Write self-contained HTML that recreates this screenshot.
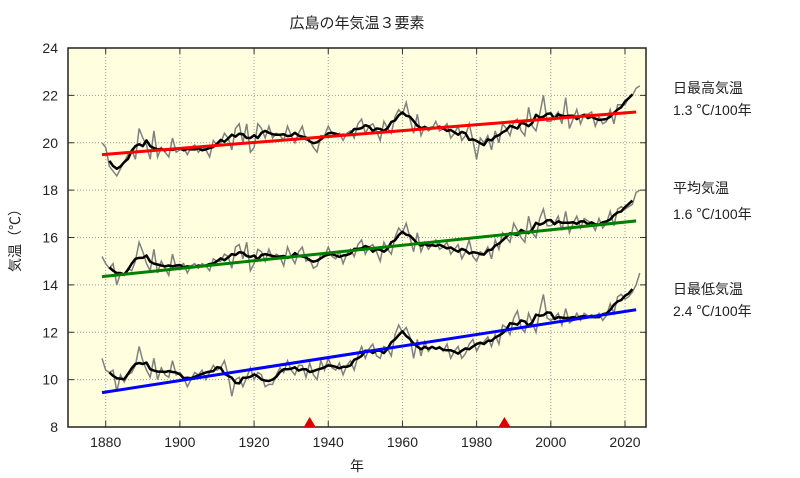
<!DOCTYPE html>
<html><head><meta charset="utf-8">
<style>
html,body{margin:0;padding:0;background:#fff;}
svg{display:block;font-family:"Liberation Sans","Noto Sans CJK JP",sans-serif;}
</style></head>
<body>
<svg id="chart" width="800" height="478" viewBox="0 0 800 478" xmlns="http://www.w3.org/2000/svg">
<text x="357" y="28" text-anchor="middle" font-size="15" fill="#222">広島の年気温３要素</text>
<text x="0" y="0" font-size="14" fill="#222" text-anchor="middle" transform="translate(20,237) rotate(-90)">気温（℃）</text>
<text x="357" y="471" font-size="14" fill="#222" text-anchor="middle">年</text>
<g>
<text x="673" y="93" font-size="14" fill="#222">日最高気温</text>
<text x="673" y="115" font-size="14" fill="#222">1.3 ℃/100年</text></g>
<g>
<text x="673" y="193" font-size="14" fill="#222">平均気温</text>
<text x="673" y="219" font-size="14" fill="#222">1.6 ℃/100年</text></g>
<g>
<text x="673" y="294" font-size="14" fill="#222">日最低気温</text>
<text x="673" y="316" font-size="14" fill="#222">2.4 ℃/100年</text></g>
</svg>
<script>
const startYear = 1879;
const maxTemps = [20.0,19.8,19.0,18.8,18.6,18.9,19.2,19.5,19.7,19.3,20.6,
20.2,19.9,19.3,20.5,19.4,19.8,19.6,19.4,20.2,19.6,
19.7,19.8,19.5,19.8,19.9,19.6,19.8,19.7,19.4,20.1,
19.9,20.0,20.4,20.2,19.7,20.6,20.8,20.0,20.8,19.6,
19.8,20.8,20.6,20.2,20.7,20.2,20.4,20.3,20.1,20.7,
20.3,20.0,20.4,20.7,20.1,20.1,19.8,19.6,20.3,20.3,
20.7,20.4,20.3,20.4,20.1,20.4,20.5,20.2,20.8,21.0,
20.4,20.7,20.8,20.5,20.1,20.9,20.6,20.4,21.1,21.4,
21.2,21.7,21.0,20.4,21.2,20.3,20.7,20.5,20.6,20.9,
20.5,20.6,20.8,20.2,20.4,20.7,20.1,20.3,20.8,20.1,
19.3,20.2,20.0,20.3,19.7,20.5,20.0,20.8,20.6,20.3,
20.9,21.0,20.5,20.3,21.5,20.7,20.5,21.2,22.0,20.9,
20.9,21.1,21.3,20.8,21.9,20.6,21.0,21.4,20.8,21.2,
21.2,21.3,20.7,21.1,20.8,20.9,21.4,20.8,21.6,21.6,
21.6,21.9,22.0,22.3,22.4];
const meanTemps = [15.2,14.9,14.7,14.9,14.0,14.5,14.4,14.7,14.6,15.0,15.8,
15.4,14.9,14.6,15.5,14.5,15.0,14.7,14.4,15.3,14.7,
14.8,14.9,14.5,14.8,14.9,14.7,14.9,14.8,14.6,15.1,
15.0,15.0,15.3,15.2,14.7,15.6,15.7,15.1,15.8,14.6,
14.9,15.5,15.4,15.0,15.5,15.1,15.3,15.2,14.8,15.6,
15.2,14.9,15.4,15.6,15.0,15.1,14.7,14.8,15.3,15.2,
15.6,15.2,15.1,15.4,14.9,15.3,15.5,15.2,15.7,15.9,
15.3,15.6,15.7,15.4,15.0,15.8,15.5,15.3,16.0,16.4,
16.2,16.6,16.0,15.4,16.2,15.4,15.8,15.5,15.7,15.9,
15.5,15.6,15.8,15.3,15.5,15.7,15.1,15.4,15.9,15.2,
15.0,15.4,15.3,15.6,15.1,15.9,15.5,16.2,16.0,15.8,
16.6,16.3,16.0,15.8,16.9,16.2,16.0,16.8,17.2,16.5,
16.5,16.6,16.9,16.3,17.1,16.2,16.6,16.9,16.4,16.8,
16.7,16.6,16.3,16.8,16.4,16.6,17.1,16.5,17.2,17.3,
17.2,17.3,17.4,17.9,18.0];
const minTemps = [10.9,10.4,10.3,10.4,9.5,10.2,9.9,10.2,10.3,10.6,11.4,
10.8,10.4,10.1,10.9,10.0,10.5,10.2,10.1,10.8,10.2,
10.3,10.1,9.7,10.0,10.3,10.2,10.4,10.0,10.3,10.6,
10.4,10.5,10.8,10.2,9.3,10.0,10.1,9.7,10.1,10.5,
10.0,10.3,10.2,9.7,9.8,9.8,10.2,10.5,10.3,10.8,
10.4,10.2,10.6,10.6,10.1,10.7,10.2,10.0,10.8,10.4,
10.9,10.5,10.4,10.7,10.2,10.6,10.8,10.4,11.0,11.4,
10.9,11.3,11.5,11.0,10.9,11.4,11.3,11.0,11.9,12.3,
12.0,12.2,11.8,10.9,11.7,11.0,11.6,11.2,11.4,11.3,
11.4,11.2,11.5,10.9,11.2,11.4,10.9,11.1,11.5,11.7,
11.2,11.5,11.6,11.8,11.4,11.9,11.5,12.3,12.2,11.9,
12.6,12.9,12.2,12.0,12.8,12.4,12.0,12.9,13.6,12.6,
12.5,12.6,12.8,12.3,13.0,12.4,12.5,12.8,12.5,12.8,
12.7,12.6,12.6,12.8,12.5,12.7,13.2,12.8,13.5,13.6,
13.4,13.5,13.7,14.0,14.5];
const trendYears = [1879, 2023];
const trendMax = [19.5, 21.3];
const trendMean = [14.35, 16.7];
const trendMin = [9.45, 12.95];
const xTicks = [1880,1900,1920,1940,1960,1980,2000,2020];
const yTicks = [8,10,12,14,16,18,20,22,24];
const markerYears = [1935, 1987.5];

const L=68,R=646,T=48,B=427;
const x = yr => 105.7 + (yr-1880)*(625-105.7)/140;
const y = v => B - (v-8)*(B-T)/16;
const svg = document.getElementById('chart');
const NS='http://www.w3.org/2000/svg';
function mk(tag, attrs, parent){const e=document.createElementNS(NS,tag);for(const k in attrs)e.setAttribute(k,attrs[k]);(parent||svg).appendChild(e);return e;}

const bg = mk('rect',{x:L,y:T,width:R-L,height:B-T,fill:'#ffffe0'});


const grid = mk('g',{stroke:'#999','stroke-width':1,'stroke-dasharray':'1,2'});


xTicks.forEach(t=>{mk('line',{x1:x(t),x2:x(t),y1:T,y2:B},grid);});
yTicks.forEach(t=>{if(t>8&&t<24)mk('line',{x1:L,x2:R,y1:y(t),y2:y(t)},grid);});
const axes = mk('g',{fill:'#222','font-size':14});


xTicks.forEach(t=>{
  mk('line',{x1:x(t),x2:x(t),y1:B,y2:B-6,stroke:'#333'},axes);
  mk('line',{x1:x(t),x2:x(t),y1:T,y2:T+6,stroke:'#333'},axes);
  const tx=mk('text',{x:x(t),y:B+20,'text-anchor':'middle'},axes);tx.textContent=t;
  
  
});
yTicks.forEach(t=>{
  mk('line',{x1:L,x2:L+6,y1:y(t),y2:y(t),stroke:'#333'},axes);
  mk('line',{x1:R,x2:R-6,y1:y(t),y2:y(t),stroke:'#333'},axes);
  const tx=mk('text',{x:L-10,y:y(t)+5,'text-anchor':'end'},axes);tx.textContent=t;
  
  
});

function series(vals, name, trend, color){
  const g = mk('g',{fill:'none'});
  
  
  const raw = vals.map((v,i)=>x(startYear+i).toFixed(1)+','+y(v).toFixed(1)).join(' ');
  const p1 = mk('polyline',{points:raw,stroke:'#808080','stroke-width':1.5},g);
  
  
  const ma=[];
  for(let i=2;i<vals.length-2;i++){let s=0;for(let k=-2;k<=2;k++)s+=vals[i+k];ma.push(x(startYear+i).toFixed(1)+','+y(s/5).toFixed(1));}
  const p2 = mk('polyline',{points:ma.join(' '),stroke:'#000','stroke-width':2.5,'stroke-linejoin':'round'},g);
  
  
  const tl = mk('line',{x1:x(trendYears[0]),y1:y(trend[0]),x2:x(trendYears[1]),y2:y(trend[1]),stroke:color,'stroke-width':3},g);
  
  
}
series(maxTemps,'max-temp',trendMax,'#ff0000');
series(meanTemps,'mean-temp',trendMean,'#008000');
series(minTemps,'min-temp',trendMin,'#0000ff');

const frame = mk('rect',{x:L,y:T,width:R-L,height:B-T,fill:'none',stroke:'#222','stroke-width':1.5});


markerYears.forEach(yr=>{
  const m = mk('polygon',{points:`${x(yr)-6},${B} ${x(yr)+6},${B} ${x(yr)},${B-10}`,fill:'#dd0000'});
  
  
});
</script>
</body></html>
